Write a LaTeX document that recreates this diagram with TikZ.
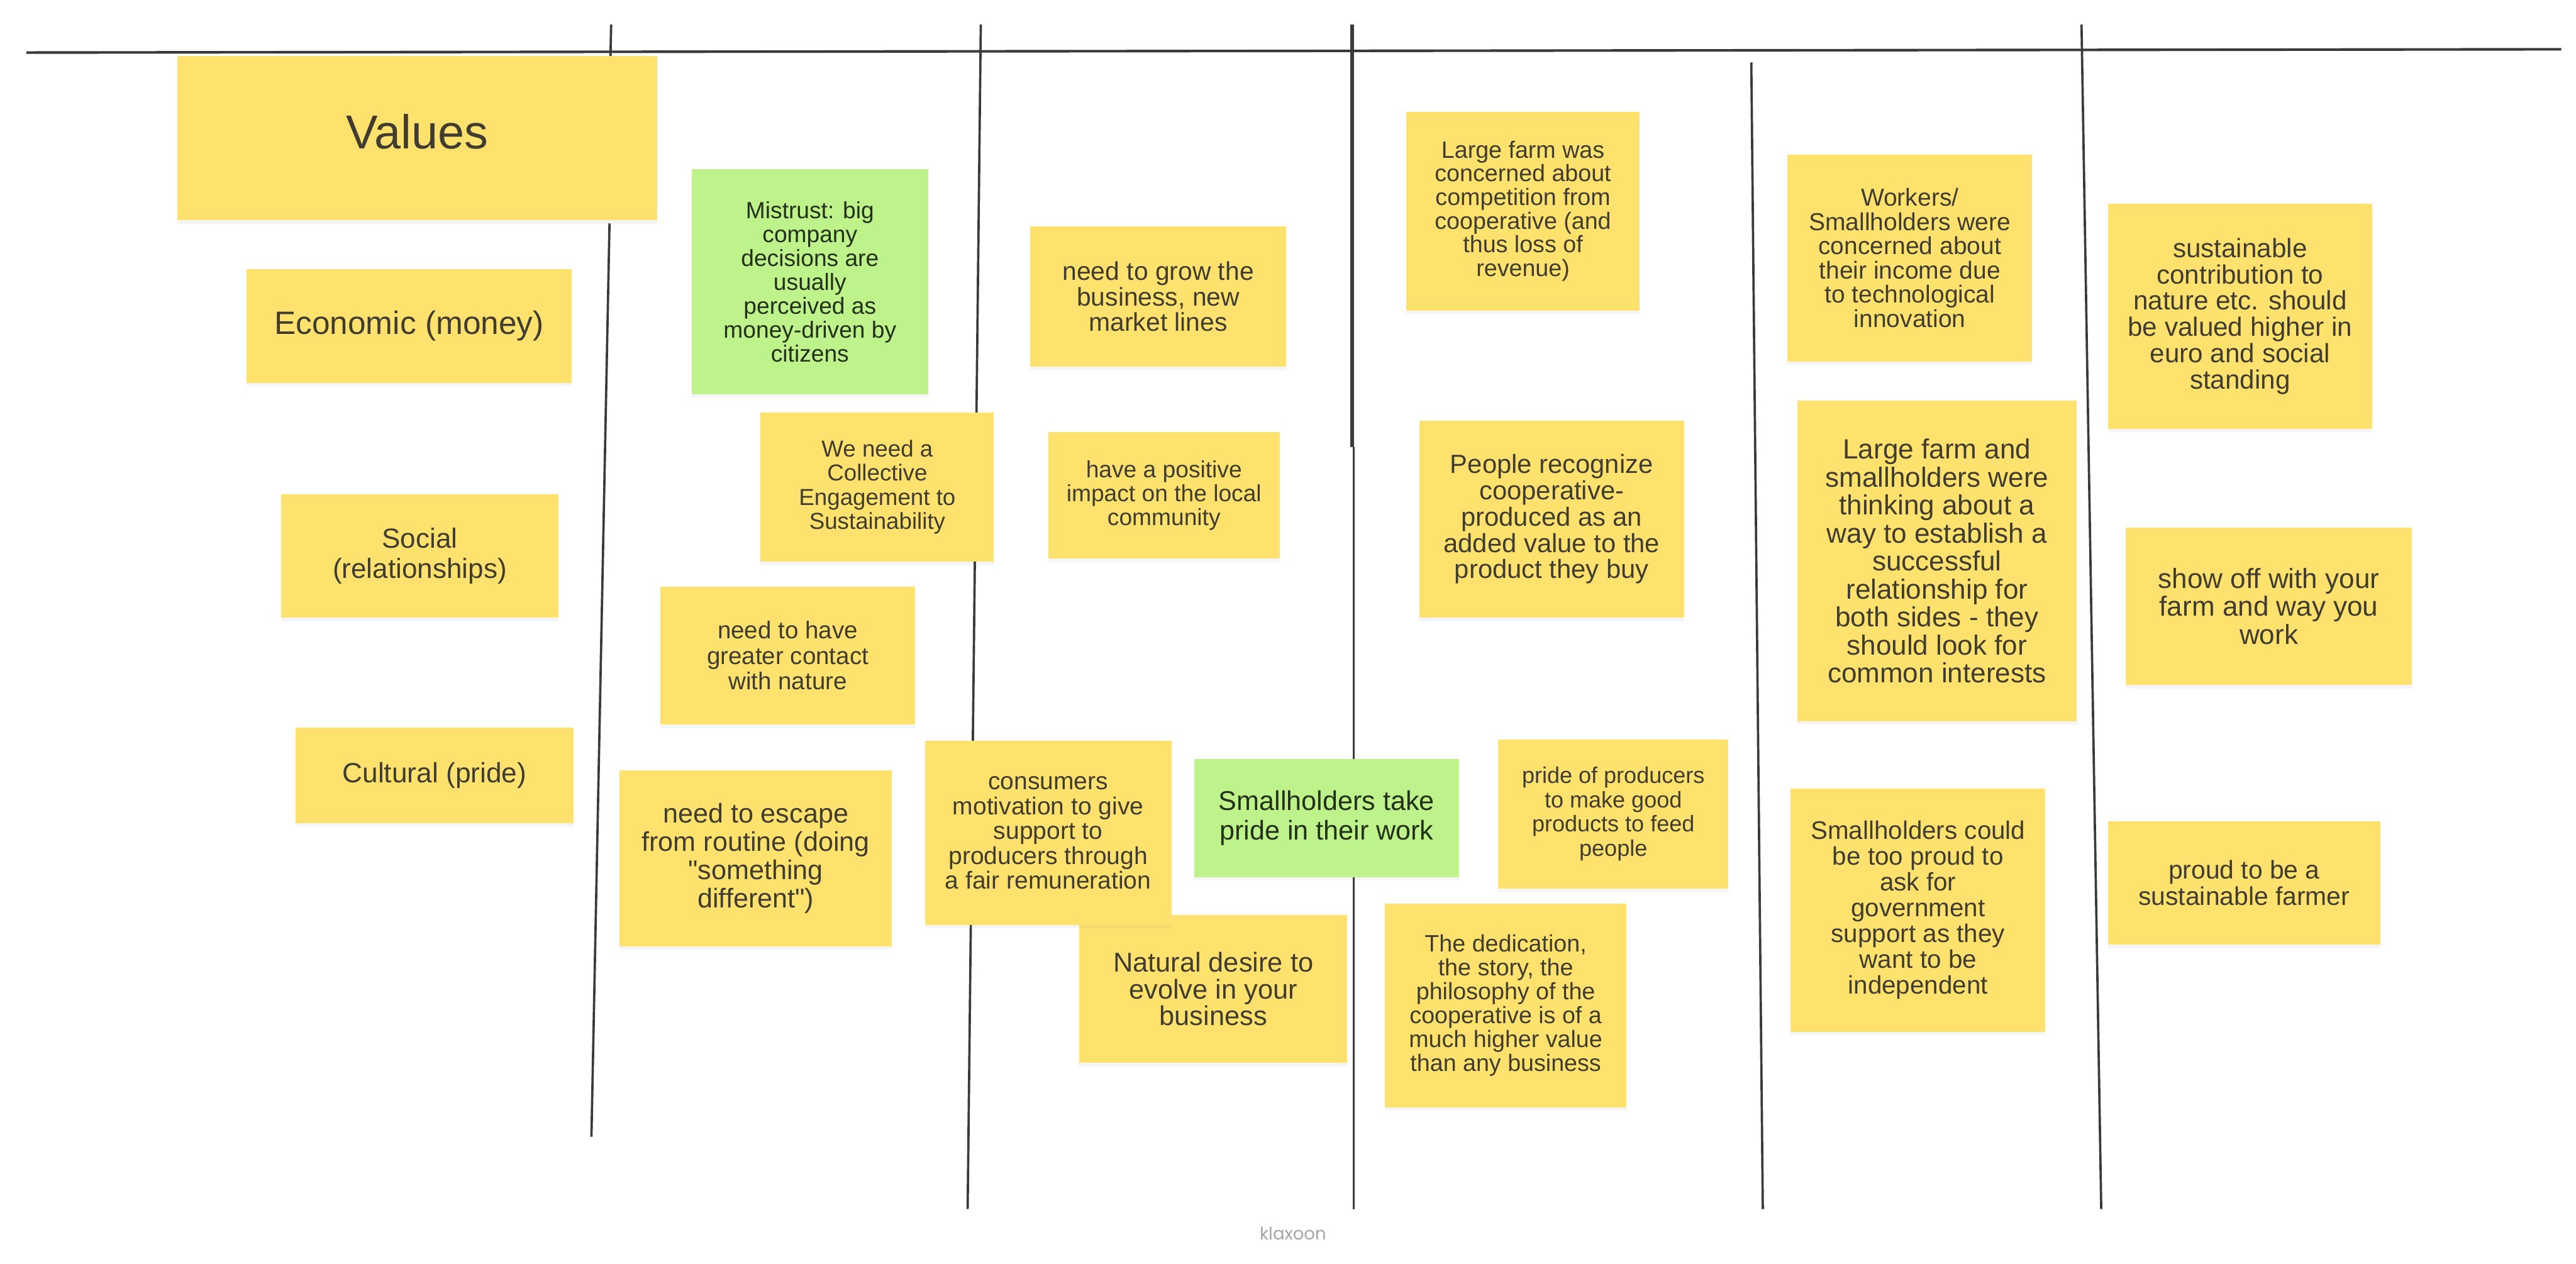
\documentclass[tikz,border=0pt]{standalone}
\usepackage{fontspec}
\setmainfont{Liberation Sans}[Ligatures=TeXOff]
\newfontfamily\logofont{Poppins}
\usepackage{xcolor}
\usetikzlibrary{shadows}
\definecolor{noteyellow}{HTML}{FFE26E}
\definecolor{notegreen}{HTML}{BEF28A}
\definecolor{notetext}{HTML}{403C30}
\definecolor{rulecolor}{HTML}{3A3A3A}
\tikzset{
    note/.style={rectangle, fill=noteyellow, text=notetext, align=center, inner sep=0pt,
        drop shadow={opacity=0.08, shadow xshift=0pt, shadow yshift=-1.2pt}},
    greennote/.style={note, fill=notegreen, text=notetext!90!green!60!black},
    wh/.style 2 args={minimum width=#1*0.02cm, minimum height=#2*0.02cm},
    ft/.style 2 args={font=\fontsize{#1}{#2}\selectfont},
    divider/.style={draw=rulecolor, line width=0.8pt},
    heavydivider/.style={draw=rulecolor, line width=1.3pt}
}
\begin{document}
\begin{tikzpicture}[x=0.02cm, y=-0.02cm]
    \useasboundingbox (0,0) rectangle (1568,769.4);
    \fill[white] (0,0) rectangle (1568,769.4);
    % dividers
    \coordinate (axisL) at (16,32);
    \coordinate (axisR) at (1559,30);
    \coordinate (div1a) at (372,15);
    \coordinate (div1b) at (371.6,34);
    \coordinate (div1c) at (371,136);
    \coordinate (div1d) at (360,692);
    \coordinate (div2a) at (597,15);
    \coordinate (div2b) at (589,736);
    \coordinate (div3a) at (823,15);
    \coordinate (div3b) at (823,272);
    \coordinate (div3c) at (824,272);
    \coordinate (div3d) at (824,736);
    \coordinate (div4a) at (1066,38);
    \coordinate (div4b) at (1073,736);
    \coordinate (div5a) at (1267,15);
    \coordinate (div5b) at (1279,736);
    \draw[divider, line width=0.9pt] (axisL) -- (axisR);
    \draw[divider] (div1a) -- (div1b);
    \draw[divider] (div1c) -- (div1d);
    \draw[divider] (div2a) -- (div2b);
    \draw[heavydivider] (div3a) -- (div3b);
    \draw[divider] (div3c) -- (div3d);
    \draw[divider] (div4a) -- (div4b);
    \draw[divider] (div5a) -- (div5b);
    % first column
    \node[note, wh={292}{100}, ft={16.5}{18}, text depth=4.5pt] (values) at (254,84) {Values};
    \node[note, wh={198}{69}, ft={11.2}{12.5}] (economic) at (249,198.5) {Economic (money)};
    \node[note, wh={169}{75}, ft={9.6}{10.6}] (social) at (255.5,338.5) {Social\\(relationships)};
    \node[note, wh={169}{58}, ft={9.65}{11}] (cultural) at (264.5,472) {Cultural (pride)};
    % second column
    \node[greennote, wh={144}{137}, ft={8.1}{8.3}] (mistrust) at (493,171.5) {Mistrust: big\\company\\decisions are\\usually\\perceived as\\money-driven by\\citizens};
    \node[note, wh={142}{91}, ft={8}{8.3}] (collective) at (534,296.5) {We need a\\Collective\\Engagement to\\Sustainability};
    \node[note, wh={155}{84}, ft={8.4}{8.9}] (contact) at (479.5,399) {need to have\\greater contact\\with nature};
    \node[note, wh={166}{107}, ft={9.4}{9.8}] (routine) at (460,522.5) {need to escape\\from routine (doing\\"something\\different")};
    % third column
    \node[note, wh={156}{85}, ft={8.9}{8.9}] (grow) at (705,180.5) {need to grow the\\business, new\\market lines};
    \node[note, wh={141}{77}, ft={8.1}{8.3}] (impact) at (708.5,301.5) {have a positive\\impact on the local\\community};
    \node[note, wh={163}{90}, ft={9.45}{9.2}] (desire) at (738.5,602) {Natural desire to\\evolve in your\\business};
    \node[note, wh={150}{112}, ft={8.5}{8.6}] (motivation) at (638,507) {consumers\\motivation to give\\support to\\producers through\\a fair remuneration};
    \node[greennote, wh={161}{72}, ft={9.4}{10.2}] (smallholders) at (807.5,498) {Smallholders take\\pride in their work};
    % fourth column
    \node[note, wh={142}{121}, ft={8.2}{8.2}] (largefarm) at (927,128.5) {Large farm was\\concerned about\\competition from\\cooperative (and\\thus loss of\\revenue)};
    \node[note, wh={161}{120}, ft={9.1}{9.1}] (recognize) at (944.5,316) {People recognize\\cooperative-\\produced as an\\added value to the\\product they buy};
    \node[note, wh={140}{91}, ft={7.85}{8.4}] (pride) at (982,495.5) {pride of producers\\to make good\\products to feed\\people};
    \node[note, wh={147}{124}, ft={8.2}{8.3}] (dedication) at (916.5,612) {The dedication,\\the story, the\\philosophy of the\\cooperative is of a\\much higher value\\than any business};
    % fifth column
    \node[note, wh={149}{126}, ft={8.5}{8.4}] (workers) at (1162.5,157) {Workers/\\Smallholders were\\concerned about\\their income due\\to technological\\innovation};
    \node[note, wh={170}{195}, ft={9.6}{9.7}] (relationship) at (1179,341.5) {Large farm and\\smallholders were\\thinking about a\\way to establish a\\successful\\relationship for\\both sides - they\\should look for\\common interests};
    \node[note, wh={155}{148}, ft={8.8}{8.95}] (independent) at (1167.5,554) {Smallholders could\\be too proud to\\ask for\\government\\support as they\\want to be\\independent};
    % sixth column
    \node[note, wh={161}{137}, ft={9.2}{9.1}] (sustainable) at (1363.5,192.5) {sustainable\\contribution to\\nature etc. should\\be valued higher in\\euro and social\\standing};
    \node[note, wh={174}{96}, ft={9.6}{9.7}] (showoff) at (1381,369) {show off with your\\farm and way you\\work};
    \node[note, wh={166}{75}, ft={8.9}{9.1}] (proudfarmer) at (1366,537.5) {proud to be a\\sustainable farmer};
    % logo
    \node[text=gray!70, font=\logofont\fontsize{6}{7}\selectfont, inner sep=0pt] (logo) at (787,751) {klaxoon};
\end{tikzpicture}
\end{document}
